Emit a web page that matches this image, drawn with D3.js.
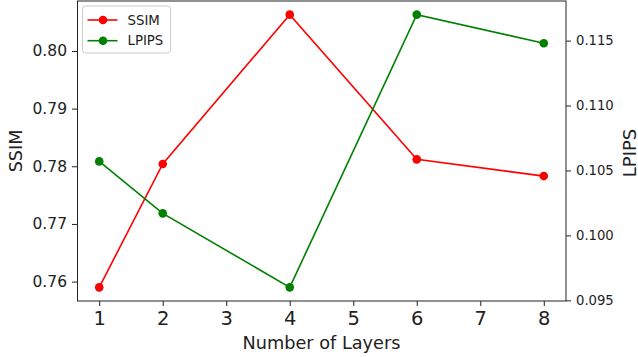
<!DOCTYPE html>
<html>
<head>
<meta charset="utf-8">
<script src="https://cdn.jsdelivr.net/npm/d3@7"></script>
<style>
  html, body { margin: 0; padding: 0; background: #fff; }
  svg { display: block; font-family: "DejaVu Sans", sans-serif; }
</style>
</head>
<body>
<svg id="chart" width="638" height="357"></svg>
<script>
// values
const layers = [1, 2, 4, 6, 8];
const ssim = [0.7590, 0.7804, 0.8063, 0.7812, 0.7783];
const lpips = [0.1057, 0.1017, 0.0960, 0.1170, 0.1148];
const xTicks = [1, 2, 3, 4, 5, 6, 7, 8];
const ssimTicks = [0.76, 0.77, 0.78, 0.79, 0.80];
const lpipsTicks = [0.095, 0.100, 0.105, 0.110, 0.115];

const margin = { top: 1, right: 72, bottom: 56, left: 77 };
const width = 638, height = 357;

const svg = d3.select('#chart');

// matplotlib-ish 5% padding
function padded(vals) {
  const [lo, hi] = d3.extent(vals);
  const p = (hi - lo) * 0.05;
  return [lo - p, hi + p];
}

const x = d3.scaleLinear()
  .domain(padded(layers))
  .range([margin.left, width - margin.right]);

const yL = d3.scaleLinear()
  .domain(padded(ssim))
  .range([height - margin.bottom, margin.top]);

const yR = d3.scaleLinear()
  .domain(padded(lpips))
  .range([height - margin.bottom, margin.top]);

const axisColor = '#222';

// x axis
const gx = svg.append('g')
  .attr('transform', `translate(0,${height - margin.bottom})`)
  .call(d3.axisBottom(x).tickValues(xTicks).tickFormat(d3.format('d')).tickSize(5).tickPadding(5.5));
gx.selectAll('text').attr('font-size', 19.5).attr('fill', axisColor);

// left axis
const gl = svg.append('g')
  .attr('transform', `translate(${margin.left},0)`)
  .call(d3.axisLeft(yL).tickValues(ssimTicks).tickFormat(d3.format('.2f')).tickSize(5).tickPadding(5));
gl.selectAll('text').attr('font-size', 15.5).attr('fill', axisColor);

// right axis
const gr = svg.append('g')
  .attr('transform', `translate(${width - margin.right},0)`)
  .call(d3.axisRight(yR).tickValues(lpipsTicks).tickFormat(d3.format('.3f')).tickSize(5).tickPadding(5));
gr.selectAll('text').attr('font-size', 13.2).attr('fill', axisColor);

[gx, gl, gr].forEach(g => {
  g.select('.domain').remove();
  g.selectAll('line').attr('stroke', axisColor).attr('stroke-width', 1);
  g.attr('font-family', null);
});

// frame
svg.append('rect')
  .attr('x', margin.left + 0.5)
  .attr('y', margin.top)
  .attr('width', width - margin.left - margin.right - 0.5)
  .attr('height', height - margin.top - margin.bottom)
  .attr('fill', 'none')
  .attr('stroke', axisColor)
  .attr('stroke-width', 1);

// axis labels
svg.append('text')
  .attr('x', (margin.left + width - margin.right) / 2)
  .attr('y', 348.5)
  .attr('text-anchor', 'middle')
  .attr('font-size', 17.7)
  .attr('fill', axisColor)
  .text('Number of Layers');

svg.append('text')
  .attr('transform', `translate(22,${(margin.top + height - margin.bottom) / 2}) rotate(-90)`)
  .attr('text-anchor', 'middle')
  .attr('font-size', 17.5)
  .attr('fill', axisColor)
  .text('SSIM');

svg.append('text')
  .attr('transform', `translate(635.5,${(margin.top + height - margin.bottom) / 2 + 2}) rotate(-90)`)
  .attr('text-anchor', 'middle')
  .attr('font-size', 18)
  .attr('fill', axisColor)
  .text('LPIPS');

// series
const series = [
  { name: 'SSIM', color: '#ff0000', values: ssim, y: yL },
  { name: 'LPIPS', color: '#008000', values: lpips, y: yR },
];

series.forEach(s => {
  const pts = layers.map((l, i) => [l, s.values[i]]);
  svg.append('path')
    .datum(pts)
    .attr('fill', 'none')
    .attr('stroke', s.color)
    .attr('stroke-width', 1.6)
    .attr('d', d3.line().x(d => x(d[0])).y(d => s.y(d[1])));
  svg.append('g')
    .selectAll('circle')
    .data(pts)
    .join('circle')
    .attr('cx', d => x(d[0]))
    .attr('cy', d => s.y(d[1]))
    .attr('r', 4.3)
    .attr('fill', s.color);
});

// legend
const legend = svg.append('g').attr('transform', 'translate(82.5,6)');
legend.append('rect')
  .attr('width', 88).attr('height', 47).attr('rx', 3)
  .attr('fill', '#fff').attr('fill-opacity', 0.8)
  .attr('stroke', '#ccc').attr('stroke-width', 1);
series.forEach((s, i) => {
  const g = legend.append('g').attr('transform', `translate(0,${14 + i * 20.7})`);
  g.append('line').attr('x1', 5).attr('x2', 35).attr('stroke', s.color).attr('stroke-width', 1.6);
  g.append('circle').attr('cx', 20.5).attr('r', 4.3).attr('fill', s.color);
  g.append('text').attr('x', 45).attr('dy', '0.35em')
    .attr('font-size', 13.3).attr('fill', axisColor).text(s.name);
});
</script>
</body>
</html>
